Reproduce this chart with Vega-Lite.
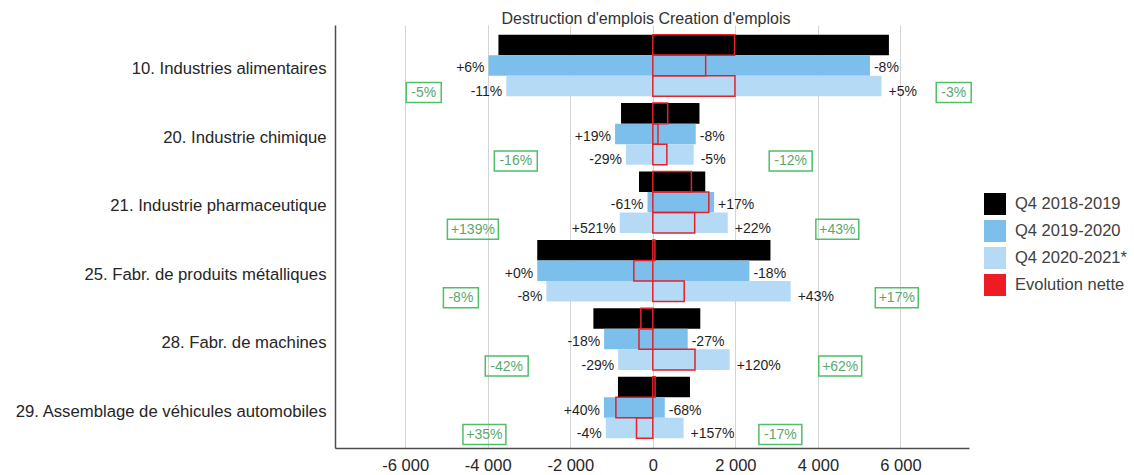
{
  "$schema": "https://vega.github.io/schema/vega-lite/v6.json",
  "autosize": {"type": "none"},
  "padding": {"left": 335, "top": 25, "right": 165, "bottom": 27},
  "width": 634,
  "height": 423,
  "title": {
    "text": "Destruction d'emplois Creation d'emplois",
    "fontSize": 16,
    "fontWeight": "normal",
    "color": "#333333",
    "font": "Liberation Sans",
    "anchor": "middle",
    "dx": -6,
    "offset": -2
  },
  "config": {
    "font": "Liberation Sans",
    "view": {"stroke": null},
    "locale": {
      "number": {
        "decimal": ",",
        "thousands": " ",
        "grouping": [3],
        "currency": ["", " €"],
        "minus": "-"
      }
    },
    "axisX": {
      "grid": true,
      "gridColor": "#d4d4d4",
      "gridWidth": 1,
      "ticks": false,
      "domainColor": "#4d4d4d",
      "domainWidth": 1.5,
      "labelFontSize": 16.5,
      "labelColor": "#262626",
      "labelPadding": 9
    },
    "axisY": {
      "grid": false,
      "ticks": false,
      "tickSize": 0,
      "domainColor": "#4d4d4d",
      "domainWidth": 1.5,
      "labelFontSize": 16.7,
      "labelColor": "#262626",
      "labelPadding": 9,
      "labelOffset": 4,
      "labelLimit": 400
    }
  },
  "data": {
    "values": [
      {"secteur": "10. Industries alimentaires", "periode": "Q4 2018-2019", "destruction": -3740, "creation": 5720, "net": 1980},
      {"secteur": "10. Industries alimentaires", "periode": "Q4 2019-2020", "destruction": -3980, "creation": 5260, "net": 1280, "varD": "+6%", "varC": "-8%"},
      {"secteur": "10. Industries alimentaires", "periode": "Q4 2020-2021*", "destruction": -3550, "creation": 5540, "net": 1990, "varD": "-11%", "varC": "+5%", "vs18D": "-5%", "vs18C": "-3%", "ancreG": -5550, "ancreD": 7290},

      {"secteur": "20. Industrie chimique", "periode": "Q4 2018-2019", "destruction": -770, "creation": 1130, "net": 360},
      {"secteur": "20. Industrie chimique", "periode": "Q4 2019-2020", "destruction": -915, "creation": 1040, "net": 125, "varD": "+19%", "varC": "-8%"},
      {"secteur": "20. Industrie chimique", "periode": "Q4 2020-2021*", "destruction": -650, "creation": 990, "net": 340, "varD": "-29%", "varC": "-5%", "vs18D": "-16%", "vs18C": "-12%", "ancreG": -3320, "ancreD": 3340},

      {"secteur": "21. Industrie pharmaceutique", "periode": "Q4 2018-2019", "destruction": -335, "creation": 1270, "net": 935},
      {"secteur": "21. Industrie pharmaceutique", "periode": "Q4 2019-2020", "destruction": -129, "creation": 1485, "net": 1356, "varD": "-61%", "varC": "+17%"},
      {"secteur": "21. Industrie pharmaceutique", "periode": "Q4 2020-2021*", "destruction": -801, "creation": 1815, "net": 1014, "varD": "+521%", "varC": "+22%", "vs18D": "+139%", "vs18C": "+43%", "ancreG": -4360, "ancreD": 4470},

      {"secteur": "25. Fabr. de produits métalliques", "periode": "Q4 2018-2019", "destruction": -2800, "creation": 2850, "net": 50},
      {"secteur": "25. Fabr. de produits métalliques", "periode": "Q4 2019-2020", "destruction": -2800, "creation": 2340, "net": -460, "varD": "+0%", "varC": "-18%"},
      {"secteur": "25. Fabr. de produits métalliques", "periode": "Q4 2020-2021*", "destruction": -2580, "creation": 3340, "net": 760, "varD": "-8%", "varC": "+43%", "vs18D": "-8%", "vs18C": "+17%", "ancreG": -4650, "ancreD": 5910},

      {"secteur": "28. Fabr. de machines", "periode": "Q4 2018-2019", "destruction": -1440, "creation": 1150, "net": -290},
      {"secteur": "28. Fabr. de machines", "periode": "Q4 2019-2020", "destruction": -1180, "creation": 845, "net": -335, "varD": "-18%", "varC": "-27%"},
      {"secteur": "28. Fabr. de machines", "periode": "Q4 2020-2021*", "destruction": -840, "creation": 1862, "net": 1022, "varD": "-29%", "varC": "+120%", "vs18D": "-42%", "vs18C": "+62%", "ancreG": -3540, "ancreD": 4540},

      {"secteur": "29. Assemblage de véhicules automobiles", "periode": "Q4 2018-2019", "destruction": -845, "creation": 900, "net": 55},
      {"secteur": "29. Assemblage de véhicules automobiles", "periode": "Q4 2019-2020", "destruction": -1185, "creation": 290, "net": -895, "varD": "+40%", "varC": "-68%"},
      {"secteur": "29. Assemblage de véhicules automobiles", "periode": "Q4 2020-2021*", "destruction": -1140, "creation": 745, "net": -395, "varD": "-4%", "varC": "+157%", "vs18D": "+35%", "vs18C": "-17%", "ancreG": -4080, "ancreD": 3090}
    ]
  },
  "encoding": {
    "y": {
      "field": "secteur",
      "type": "nominal",
      "title": null,
      "scale": {
        "domain": [
          "10. Industries alimentaires",
          "20. Industrie chimique",
          "21. Industrie pharmaceutique",
          "25. Fabr. de produits métalliques",
          "28. Fabr. de machines",
          "29. Assemblage de véhicules automobiles"
        ],
        "paddingInner": 0.1,
        "paddingOuter": 0.142
      }
    }
  },
  "layer": [
    {
      "mark": {"type": "bar", "strokeWidth": 0},
      "encoding": {
        "yOffset": {
          "field": "periode",
          "type": "nominal",
          "scale": {
            "domain": ["Q4 2018-2019", "Q4 2019-2020", "Q4 2020-2021*"],
            "paddingInner": 0,
            "paddingOuter": 0
          }
        },
        "x": {
          "field": "destruction",
          "type": "quantitative",
          "title": null,
          "scale": {"domain": [-7700, 7660], "nice": false, "zero": false},
          "axis": {"values": [-6000, -4000, -2000, 0, 2000, 4000, 6000], "format": ",d"}
        },
        "x2": {"field": "creation"},
        "color": {
          "field": "periode",
          "type": "nominal",
          "scale": {
            "domain": ["Q4 2018-2019", "Q4 2019-2020", "Q4 2020-2021*", "Evolution nette"],
            "range": ["#000000", "#7dbfec", "#b5daf5", "#ed1c24"]
          },
          "legend": {
            "title": null,
            "orient": "none",
            "legendX": 649,
            "legendY": 168,
            "symbolType": "square",
            "symbolSize": 484,
            "symbolStrokeWidth": 0,
            "labelFontSize": 16.5,
            "labelColor": "#404040",
            "labelOffset": 9,
            "rowPadding": 5,
            "padding": 0
          }
        }
      }
    },
    {
      "mark": {"type": "bar", "fill": "transparent", "stroke": "#e42229", "strokeWidth": 1.5},
      "encoding": {
        "yOffset": {"field": "periode", "type": "nominal"},
        "x": {"field": "net", "type": "quantitative", "title": null, "scale": {"domain": [-7700, 7660], "nice": false, "zero": false}},
        "x2": {"datum": 0}
      }
    },
    {
      "transform": [{"filter": "datum.periode === 'Q4 2019-2020'"}],
      "mark": {"type": "text", "align": "right", "baseline": "middle", "dx": -4, "dy": 3, "fontSize": 14, "color": "#1f1f1f"},
      "encoding": {
        "yOffset": {"field": "periode", "type": "nominal"},
        "x": {"field": "destruction", "type": "quantitative", "title": null, "scale": {"domain": [-7700, 7660], "nice": false, "zero": false}},
        "text": {"field": "varD"}
      }
    },
    {
      "transform": [{"filter": "datum.periode === 'Q4 2019-2020'"}],
      "mark": {"type": "text", "align": "left", "baseline": "middle", "dx": 4, "dy": 3, "fontSize": 14, "color": "#1f1f1f"},
      "encoding": {
        "yOffset": {"field": "periode", "type": "nominal"},
        "x": {"field": "creation", "type": "quantitative", "title": null, "scale": {"domain": [-7700, 7660], "nice": false, "zero": false}},
        "text": {"field": "varC"}
      }
    },
    {
      "transform": [{"filter": "datum.periode === 'Q4 2020-2021*'"}],
      "mark": {"type": "text", "align": "right", "baseline": "middle", "dx": -4, "dy": 6, "fontSize": 14, "color": "#1f1f1f"},
      "encoding": {
        "yOffset": {"field": "periode", "type": "nominal"},
        "x": {"field": "destruction", "type": "quantitative", "title": null, "scale": {"domain": [-7700, 7660], "nice": false, "zero": false}},
        "text": {"field": "varD"}
      }
    },
    {
      "transform": [{"filter": "datum.periode === 'Q4 2020-2021*'"}],
      "mark": {"type": "text", "align": "left", "baseline": "middle", "dx": 7, "dy": 6, "fontSize": 14, "color": "#1f1f1f"},
      "encoding": {
        "yOffset": {"field": "periode", "type": "nominal"},
        "x": {"field": "creation", "type": "quantitative", "title": null, "scale": {"domain": [-7700, 7660], "nice": false, "zero": false}},
        "text": {"field": "varC"}
      }
    },
    {
      "transform": [
        {"filter": "datum.vs18D"},
        {"calculate": "datum.ancreG - (4 * length(datum.vs18D) + 5.5) * 24.2", "as": "boiteG1"},
        {"calculate": "datum.ancreG + (4 * length(datum.vs18D) + 5.5) * 24.2", "as": "boiteG2"}
      ],
      "mark": {"type": "bar", "fill": "transparent", "stroke": "#4fbf68", "strokeWidth": 1.5, "height": 20, "yOffset": 27},
      "encoding": {
        "x": {"field": "boiteG1", "type": "quantitative", "title": null, "scale": {"domain": [-7700, 7660], "nice": false, "zero": false}},
        "x2": {"field": "boiteG2"}
      }
    },
    {
      "transform": [
        {"filter": "datum.vs18C"},
        {"calculate": "datum.ancreD - (4 * length(datum.vs18C) + 5.5) * 24.2", "as": "boiteD1"},
        {"calculate": "datum.ancreD + (4 * length(datum.vs18C) + 5.5) * 24.2", "as": "boiteD2"}
      ],
      "mark": {"type": "bar", "fill": "transparent", "stroke": "#4fbf68", "strokeWidth": 1.5, "height": 20, "yOffset": 27},
      "encoding": {
        "x": {"field": "boiteD1", "type": "quantitative", "title": null, "scale": {"domain": [-7700, 7660], "nice": false, "zero": false}},
        "x2": {"field": "boiteD2"}
      }
    },
    {
      "transform": [{"filter": "datum.vs18D"}],
      "mark": {"type": "text", "align": "center", "baseline": "middle", "dy": 7, "fontSize": 14, "color": "#5aa870"},
      "encoding": {
        "yOffset": {"field": "periode", "type": "nominal"},
        "x": {"field": "ancreG", "type": "quantitative", "title": null, "scale": {"domain": [-7700, 7660], "nice": false, "zero": false}},
        "text": {"field": "vs18D"}
      }
    },
    {
      "transform": [{"filter": "datum.vs18C"}],
      "mark": {"type": "text", "align": "center", "baseline": "middle", "dy": 7, "fontSize": 14, "color": "#5aa870"},
      "encoding": {
        "yOffset": {"field": "periode", "type": "nominal"},
        "x": {"field": "ancreD", "type": "quantitative", "title": null, "scale": {"domain": [-7700, 7660], "nice": false, "zero": false}},
        "text": {"field": "vs18C"}
      }
    }
  ]
}
